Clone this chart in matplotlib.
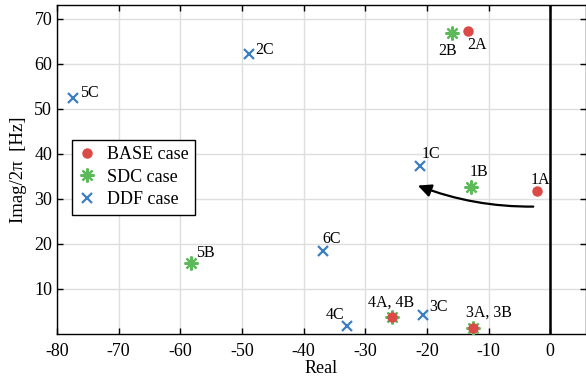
import matplotlib
matplotlib.use('Agg')
import matplotlib.pyplot as plt
from matplotlib.patches import FancyArrowPatch

plt.rcParams['font.family'] = ['Liberation Serif', 'DejaVu Serif']
plt.rcParams['axes.unicode_minus'] = False

# eigenvalues (real part, imag/2pi in Hz)
base_re = [-2.1, -13.3, -12.5, -25.7]
base_im = [31.7, 67.4, 1.4, 3.7]
sdc_re = [-12.9, -15.9, -12.5, -25.7, -58.3]
sdc_im = [32.6, 66.8, 1.4, 3.7, 15.7]
ddf_re = [-21.2, -48.9, -20.7, -32.9, -77.4, -36.9]
ddf_im = [37.4, 62.2, 4.2, 1.7, 52.5, 18.4]

# mode labels and where they sit
mode_names = ['5C', '2C', '2B', '2A', '1C', '1B', '1A', '5B', '6C', '4C',
              '4A, 4B', '3C', '3A, 3B']
label_x = [-76.3, -47.9, -18.2, -13.5, -20.9, -13.1, -3.2, -57.4, -37.0,
           -36.4, -29.6, -19.6, -13.7]
label_y = [52.6, 62.2, 62.0, 63.3, 39.1, 35.0, 33.4, 17.2, 20.3, 3.3, 6.1,
           5.2, 3.8]

x_ticks = [-80, -70, -60, -50, -40, -30, -20, -10, 0]
y_ticks = [10, 20, 30, 40, 50, 60, 70]

red = '#dc4a47'
green = '#5cba5a'
blue = '#3a7fc1'

fig = plt.figure(figsize=(5.86, 3.81), dpi=100)
ax = fig.add_axes([0.0973, 0.1234, 0.9027, 0.8626])

ax.grid(True, color='#dedede', lw=1.0, zorder=0)
ax.set_axisbelow(True)
ax.axvline(0, color='black', lw=1.8, zorder=1)

h_sdc, = ax.plot(sdc_re, sdc_im, ls='none', marker=(8, 2, 0), ms=10,
                 mew=1.6, color=green, label='SDC case', zorder=3)
h_base, = ax.plot(base_re, base_im, ls='none', marker='o', ms=6.5,
                  color=red, label='BASE case', zorder=4)
h_ddf, = ax.plot(ddf_re, ddf_im, ls='none', marker='x', ms=7, mew=1.6,
                 color=blue, label='DDF case', zorder=4)

for name, lx, ly in zip(mode_names, label_x, label_y):
    ax.text(lx, ly, name, fontsize=11.5, ha='left', va='baseline', zorder=5)

arrow = FancyArrowPatch((-2.3, 28.3), (-21.9, 33.2),
                        connectionstyle='arc3,rad=-0.1',
                        arrowstyle='-|>,head_length=8,head_width=3.8',
                        color='black', lw=1.6, zorder=5)
ax.add_patch(arrow)

ax.set_xlim(-80, 5.8)
ax.set_ylim(0, 73)
ax.set_xticks(x_ticks)
ax.set_yticks(y_ticks)
ax.tick_params(direction='in', top=True, right=True, length=4, width=1,
               labelsize=13)
ax.tick_params(axis='x', pad=6.5)
ax.tick_params(axis='y', pad=3.5)
for s in ax.spines.values():
    s.set_linewidth(1.0)

ax.set_xlabel('Real', fontsize=13, labelpad=0)
ax.set_ylabel('Imag/2π  [Hz]', fontsize=13.5, labelpad=5)

leg = ax.legend(handles=[h_base, h_sdc, h_ddf], loc='upper left',
                bbox_to_anchor=(0.028, 0.59), borderaxespad=0,
                fancybox=False, framealpha=1, edgecolor='black',
                fontsize=13, handlelength=1.0, handletextpad=0.6,
                labelspacing=0.3, borderpad=0.35)
leg.get_frame().set_linewidth(1.0)

fig.savefig('out.png', dpi=100)
